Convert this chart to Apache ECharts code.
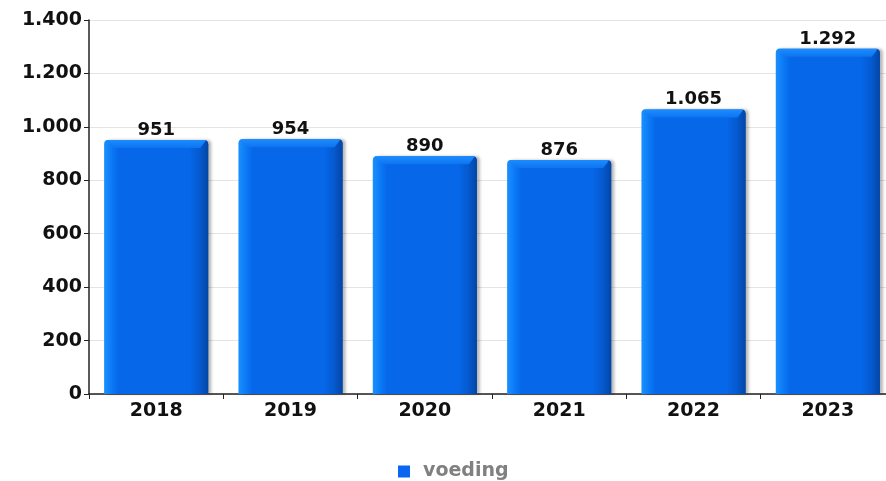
<!DOCTYPE html>
<html>
<head>
<meta charset="utf-8">
<script src="https://cdn.jsdelivr.net/npm/echarts@6/dist/echarts.min.js"></script>
<style>
  html, body { margin: 0; padding: 0; background: #fff; }
  #chart { width: 886px; height: 481px; }
</style>
</head>
<body>
<div id="chart"></div>
<script>
var years = ['2018', '2019', '2020', '2021', '2022', '2023'];
var voeding = [951, 954, 890, 876, 1065, 1292];
var yTicks = [0, 200, 400, 600, 800, 1000, 1200, 1400];

// 1.292 style thousands separator
function fmt(v) {
  return String(v).replace(/\B(?=(\d{3})+(?!\d))/g, '.');
}

var FONT = '"DejaVu Sans", sans-serif';

function renderBar(params, api) {
  var idx = api.value(0);
  var top = api.coord([idx, api.value(1)]);
  var base = api.coord([idx, 0]);
  var w = api.size([1, 0])[0] * 0.775;
  var x0 = top[0] - w / 2, x1 = top[0] + w / 2;
  var yt = top[1], yb = base[1];
  var b = 8;
  return {
    type: 'group',
    children: [
      {
        type: 'rect',
        shape: { x: x0, y: yt, width: w, height: yb - yt, r: [4, 4, 0, 0] },
        style: {
          fill: new echarts.graphic.LinearGradient(0, 0, 1, 0, [
            { offset: 0, color: '#1b90ff' },
            { offset: 0.08, color: '#0a78f4' },
            { offset: 0.14, color: '#0667e8' },
            { offset: 0.82, color: '#0667e8' },
            { offset: 0.93, color: '#0558cc' },
            { offset: 1, color: '#0346a6' }
          ]),
          shadowColor: 'rgba(0,0,0,0.28)',
          shadowBlur: 3,
          shadowOffsetX: 3,
          shadowOffsetY: 0
        }
      },
      {
        type: 'polygon',
        shape: { points: [[x0 + 2, yt], [x1 - 2, yt], [x1 - b, yt + b], [x0 + b, yt + b]] },
        style: {
          fill: new echarts.graphic.LinearGradient(0, 0, 0, 1, [
            { offset: 0, color: '#1b8dff' },
            { offset: 1, color: '#0e74f0' }
          ])
        }
      },
      {
        type: 'polygon',
        shape: { points: [[x1 - 1, yt + 2], [x1, yt + 4], [x1, yb], [x1 - b, yb], [x1 - b, yt + b]] },
        style: {
          fill: new echarts.graphic.LinearGradient(0, 0, 1, 0, [
            { offset: 0, color: '#0558cc' },
            { offset: 1, color: '#0346a6' }
          ])
        }
      },
      {
        type: 'text',
        style: {
          text: fmt(api.value(1)),
          x: top[0], y: yt - 1,
          align: 'center', verticalAlign: 'bottom',
          font: 'bold 18px ' + FONT,
          fill: '#111'
        }
      }
    ]
  };
}

var chart = echarts.init(document.getElementById('chart'));
chart.setOption({
  animation: false,
  backgroundColor: '#fff',
  grid: { left: 89, width: 806, top: 20, height: 374, containLabel: false, outerBoundsMode: 'none' },
  legend: {
    top: 457,
    left: 393,
    icon: 'rect',
    itemWidth: 12,
    itemHeight: 12,
    textStyle: { color: '#808080', fontFamily: FONT, fontWeight: 'bold', fontSize: 19, padding: [0, 0, 0, 8] },
    data: [{ name: 'voeding', itemStyle: { color: '#0a66f0' } }]
  },
  xAxis: {
    type: 'category',
    data: years,
    axisLine: { lineStyle: { color: '#222', width: 1.5 } },
    axisTick: { show: true, length: 5, lineStyle: { color: '#222' } },
    axisLabel: { color: '#111', fontFamily: FONT, fontWeight: 'bold', fontSize: 19, margin: 8 },
    splitLine: { show: false }
  },
  yAxis: {
    type: 'value',
    min: 0,
    max: yTicks[yTicks.length - 1],
    interval: 200,
    axisLine: { show: true, lineStyle: { color: '#222', width: 1.5 } },
    axisTick: { show: true, length: 5, lineStyle: { color: '#222' } },
    axisLabel: {
      color: '#111', fontFamily: FONT, fontWeight: 'bold', fontSize: 19, margin: 7,
      formatter: function (v) { return fmt(v); }
    },
    splitLine: { lineStyle: { color: '#e4e4e4' } }
  },
  series: [{
    name: 'voeding',
    type: 'custom',
    renderItem: renderBar,
    itemStyle: { color: '#0a66f0' },
    encode: { x: 0, y: 1 },
    data: voeding.map(function (v, i) { return [i, v]; }),
    z: 3
  }]
});
</script>
</body>
</html>
